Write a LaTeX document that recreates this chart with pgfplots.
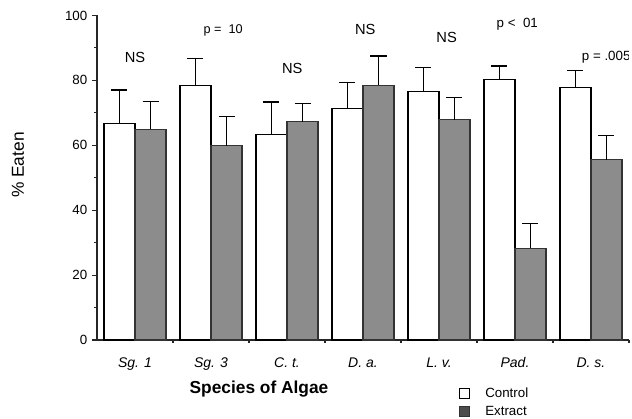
\documentclass[border=0pt]{standalone}
\usepackage{fontspec}
\setmainfont{Liberation Sans}
\usepackage{pgfplots}
\pgfplotsset{compat=1.18}
\definecolor{extractgray}{gray}{0.55}
\pgfplotsset{
  ctrlleg/.style={legend image code/.code={\draw[##1, line width=0.6pt] (0pt,-3.5pt) rectangle (7.5pt,4pt); \path (17pt,0pt);}},
  extrleg/.style={legend image code/.code={\draw[##1, line width=0.6pt, fill=black!70] (0pt,-3.5pt) rectangle (7.5pt,4pt); \path (17pt,0pt);}},
}
\begin{document}
\begin{tikzpicture}
\begin{axis}[
  at={(0,0)}, anchor=south west,
  scale only axis, width=399pt, height=243.4pt,
  xmin=-0.5, xmax=6.5, ymin=0, ymax=100,
  ybar=0pt, bar width=23.25pt,
  axis x line=bottom, axis y line=left,
  axis line style={-, line width=0.8pt, black!85},
  xtick={0,...,6},
  xticklabels={Sg. 1, Sg. 3, C. t., D. a., L. v., Pad., D. s.},
  major x tick style={draw=none},
  minor xtick={0.5,1.5,...,6.5},
  ytick={0,20,...,100}, minor ytick={10,30,...,90},
  tick align=outside, major tick length=3.75pt, minor tick length=2pt,
  tick style={line width=0.8pt, black!85},
  /pgf/number format/assume math mode=true,
  yticklabel style={font=\fontsize{10}{12}\selectfont},
  xticklabel style={font=\fontsize{10.5}{12}\selectfont\itshape, anchor=base, yshift=-17pt},
  ylabel={\% Eaten}, xlabel={Species of Algae},
  ylabel style={font=\fontsize{13}{15}\selectfont, at={(axis description cs:-0.1485,0.539)}, anchor=center},
  xlabel style={font=\fontsize{13}{15}\selectfont\bfseries, at={(axis description cs:0.3045,-0.151)}, anchor=center},
  legend style={at={(rel axis cs:0.68,-0.138)}, anchor=north west, draw=none, fill=none,
    font=\fontsize{10}{11}\selectfont, row sep=1pt, inner sep=0pt},
  legend cell align=left,
]
\addplot[fill=white, draw=black, line width=0.8pt,
  ctrlleg,
  error bars/.cd, y dir=plus, y explicit,
  error bar style={line width=0.8pt, black},
  error mark options={rotate=90, mark size=6pt, line width=1pt, black}]
  coordinates {
  (0,66.6) +- (0,10.4)
  (1,78.5) +- (0,8.2)
  (2,63.2) +- (0,10.1)
  (3,71.4) +- (0,7.9)
  (4,76.6) +- (0,7.3)
  (5,80.3) +- (0,4.1)
  (6,77.9) +- (0,5.1)
  };
\addlegendentry{Control}
\addplot[fill=extractgray, draw=black!80, line width=0.8pt,
  extrleg,
  error bars/.cd, y dir=plus, y explicit,
  error bar style={line width=0.8pt, black},
  error mark options={rotate=90, mark size=6pt, line width=1pt, black}]
  coordinates {
  (0,65.0) +- (0,8.4)
  (1,59.9) +- (0,8.9)
  (2,67.3) +- (0,5.5)
  (3,78.5) +- (0,9.0)
  (4,67.8) +- (0,6.9)
  (5,28.3) +- (0,7.7)
  (6,55.5) +- (0,7.6)
  };
\addlegendentry{Extract}
\node[font=\fontsize{11}{13}\selectfont] at (axis cs:0,87.2) {NS};
\node[font=\fontsize{9.5}{11}\selectfont] at (axis cs:1.16,95.5) {p =\ \ 10};
\node[font=\fontsize{11}{13}\selectfont] at (axis cs:2.07,83.8) {NS};
\node[font=\fontsize{11}{13}\selectfont] at (axis cs:3.03,95.8) {NS};
\node[font=\fontsize{11}{13}\selectfont] at (axis cs:4.1,93.1) {NS};
\node[font=\fontsize{10}{12}\selectfont] at (axis cs:5.03,97.4) {p <\ \ 01};
\node[font=\fontsize{10}{12}\selectfont] at (axis cs:6.2,87.2) {p = .005};
\end{axis}
\pgfresetboundingbox
\path[use as bounding box] (-72.75pt,-58.5pt) rectangle (401.25pt,255pt);
\end{tikzpicture}
\end{document}
